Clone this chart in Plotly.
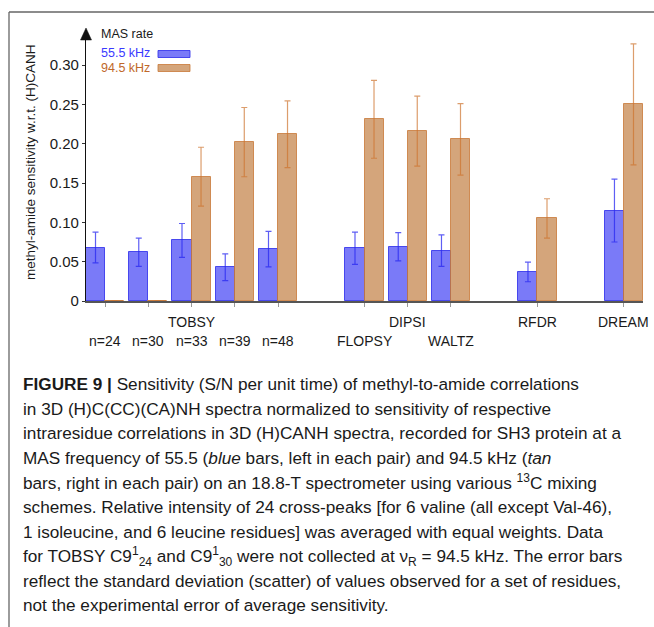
import plotly.graph_objects as go

# ---------------- data ----------------
positions = [0, 1, 2, 3, 4, 6, 7, 8, 10, 12]
blue_vals = [0.068, 0.062, 0.077, 0.043, 0.066, 0.067, 0.069, 0.064, 0.037, 0.115]
blue_err = [0.0195, 0.018, 0.0215, 0.017, 0.0225, 0.0205, 0.018, 0.020, 0.0125, 0.040]
tan_vals = [0.0, 0.0, 0.158, 0.202, 0.212, 0.231, 0.216, 0.2055, 0.105, 0.250]
tan_err = [0.0, 0.0, 0.0375, 0.044, 0.0425, 0.0495, 0.0445, 0.0455, 0.025, 0.077]

row1_labels = ["", "", "TOBSY", "", "", "", "DIPSI", "", "RFDR", "DREAM"]
row2_labels = ["n=24", "n=30", "n=33", "n=39", "n=48", "FLOPSY", "", "WALTZ", "", ""]

y_ticks = [0, 0.05, 0.10, 0.15, 0.20, 0.25, 0.30]
y_ticktext = ["0", "0.05", "0.10", "0.15", "0.20", "0.25", "0.30"]

legend_title = "MAS rate"
series_names = ["55.5 kHz", "94.5 kHz"]

caption_lines = [
    "<b>FIGURE 9 |</b> Sensitivity (S/N per unit time) of methyl-to-amide correlations",
    "in 3D (H)C(CC)(CA)NH spectra normalized to sensitivity of respective",
    "intraresidue correlations in 3D (H)CANH spectra, recorded for SH3 protein at a",
    "MAS frequency of 55.5 (<i>blue</i> bars, left in each pair) and 94.5 kHz (<i>tan</i>",
    "bars, right in each pair) on an 18.8-T spectrometer using various <sup>13</sup>C mixing",
    "schemes. Relative intensity of 24 cross-peaks [for 6 valine (all except Val-46),",
    "1 isoleucine, and 6 leucine residues] was averaged with equal weights. Data",
    "for TOBSY C9<sup>1</sup><sub>24</sub> and C9<sup>1</sup><sub>30</sub> were not collected at ν<sub>R</sub> = 94.5 kHz. The error bars",
    "reflect the standard deviation (scatter) of values observed for a set of residues,",
    "not the experimental error of average sensitivity.",
]

# ---------------- layout geometry ----------------
W, H = 654, 627
L, R, T, B = 86, 11, 32, 326
PW, PH = W - L - R, H - T - B


def px(xp):
    return (xp - L) / PW


def py(yp):
    return (H - B - yp) / PH


BLUE_FILL = "rgba(70,70,245,0.72)"
BLUE_LINE = "rgba(50,50,235,0.85)"
BLUE_ERR = "rgba(40,40,240,0.75)"
BLUE_TXT = "#3a3aff"
TAN_FILL = "rgba(196,130,72,0.72)"
TAN_LINE = "rgba(200,120,55,0.8)"
TAN_ERR = "rgba(205,115,45,0.7)"
TAN_TXT = "#c0682a"

BW = 0.44
FONT = "Liberation Sans, Arial, Helvetica, sans-serif"
CAP_FONT = "Liberation Sans Narrow, Arial Narrow, Liberation Sans, sans-serif"

fig = go.Figure()
fig.add_trace(go.Bar(
    x=positions, y=blue_vals, width=BW, offset=-BW, name=series_names[0],
    marker=dict(color=BLUE_FILL, line=dict(color=BLUE_LINE, width=1)),
    error_y=dict(type="data", array=blue_err, color=BLUE_ERR, thickness=1.2, width=3),
))
fig.add_trace(go.Bar(
    x=positions, y=tan_vals, width=BW, offset=0, name=series_names[1],
    marker=dict(color=TAN_FILL, line=dict(color=TAN_LINE, width=1)),
    error_y=dict(type="data", array=tan_err, color=TAN_ERR, thickness=1.2, width=3),
))

annotations = []
# x labels (two rows)
for p, a, b in zip(positions, row1_labels, row2_labels):
    if a:
        annotations.append(dict(x=p, y=py(322), xref="x", yref="paper", text=a,
                                showarrow=False, font=dict(size=14, color="#1a1a1a", family=FONT),
                                xanchor="center", yanchor="middle"))
    if b:
        annotations.append(dict(x=p, y=py(341), xref="x", yref="paper", text=b,
                                showarrow=False, font=dict(size=14, color="#1a1a1a", family=FONT),
                                xanchor="center", yanchor="middle"))

# y title
annotations.append(dict(x=px(30), y=py(162), xref="paper", yref="paper",
                        text="methyl-amide sensitivity w.r.t. (H)CANH", textangle=-90,
                        showarrow=False, font=dict(size=13.5, color="#1a1a1a", family=FONT),
                        xanchor="center", yanchor="middle"))

# legend (manual)
annotations.append(dict(x=px(99), y=py(34), xref="paper", yref="paper", text=legend_title,
                        showarrow=False, font=dict(size=12.5, color="#1a1a1a", family=FONT),
                        xanchor="left", yanchor="middle"))
annotations.append(dict(x=px(99), y=py(53), xref="paper", yref="paper", text=series_names[0],
                        showarrow=False, font=dict(size=12.5, color=BLUE_TXT, family=FONT),
                        xanchor="left", yanchor="middle"))
annotations.append(dict(x=px(99), y=py(68), xref="paper", yref="paper", text=series_names[1],
                        showarrow=False, font=dict(size=12.5, color=TAN_TXT, family=FONT),
                        xanchor="left", yanchor="middle"))

# caption
for i, line in enumerate(caption_lines):
    annotations.append(dict(x=px(21), y=py(384 + 24.6 * i), xref="paper", yref="paper",
                            text=line, showarrow=False,
                            font=dict(size=17.2, color="#1a1a1a", family=CAP_FONT),
                            xanchor="left", yanchor="middle", align="left"))

shapes = [
    # legend swatches
    dict(type="rect", xref="paper", yref="paper", x0=px(158), x1=px(190), y0=py(50.5), y1=py(57.5),
         fillcolor=BLUE_FILL, line=dict(color=BLUE_LINE, width=1)),
    dict(type="rect", xref="paper", yref="paper", x0=px(158), x1=px(190), y0=py(64.5), y1=py(71.5),
         fillcolor=TAN_FILL, line=dict(color=TAN_LINE, width=1)),
    # y-axis arrow head
    dict(type="path", xref="paper", yref="paper",
         path=f"M {px(80.5)} {py(40)} L {px(86)} {py(28)} L {px(91.5)} {py(40)} Z",
         fillcolor="#111111", line=dict(color="#111111", width=0.5)),
    # frame
    dict(type="line", xref="paper", yref="paper", x0=px(9), x1=px(654), y0=py(12), y1=py(12),
         line=dict(color="#666666", width=1.3)),
    dict(type="line", xref="paper", yref="paper", x0=px(9), x1=px(9), y0=py(12), y1=py(627),
         line=dict(color="#666666", width=1.3)),
]

fig.update_layout(
    width=W, height=H,
    margin=dict(l=L, r=R, t=T, b=B),
    paper_bgcolor="white", plot_bgcolor="white",
    showlegend=False,
    bargap=0,
    font=dict(family=FONT, color="#1a1a1a"),
    annotations=annotations,
    shapes=shapes,
)
fig.update_xaxes(
    range=[-0.44, 12.44], tickvals=positions, showticklabels=False,
    ticks="outside", ticklen=4, tickcolor="#999999", tickwidth=1,
    showline=True, linecolor="#555555", linewidth=1.5, showgrid=False, zeroline=False,
)
fig.update_yaxes(
    range=[0, 0.342], tickvals=y_ticks, ticktext=y_ticktext,
    ticks="outside", ticklen=3, tickcolor="#333333", tickwidth=1,
    tickfont=dict(size=15, color="#1a1a1a", family=FONT),
    showline=True, linecolor="#111111", linewidth=1.3, showgrid=False, zeroline=False,
)

fig.write_html("out.html")
